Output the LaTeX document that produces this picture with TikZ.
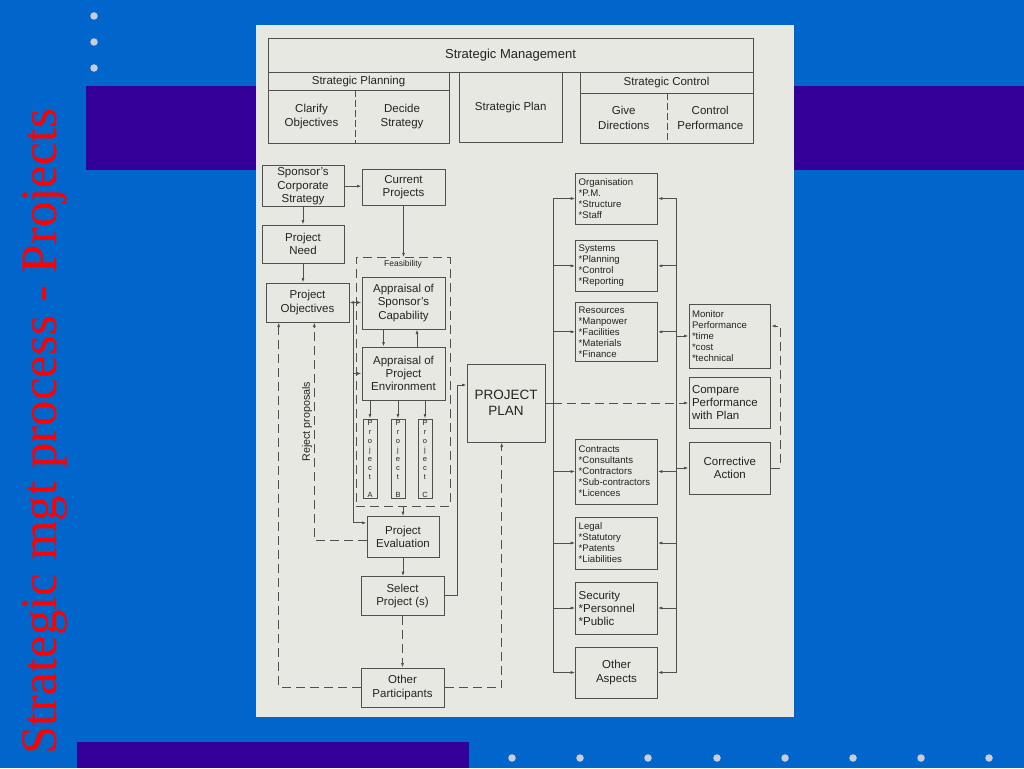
\documentclass[tikz,border=0pt]{standalone}
\usepackage{fontspec}
\setmainfont{Liberation Sans}
\newfontfamily\titlefont{Liberation Serif}
\usepackage{tikz}
\usetikzlibrary{positioning}
\usetikzlibrary{calc}
\usetikzlibrary{arrows.meta}
\definecolor{slideblue}{RGB}{0,102,204}
\definecolor{bandpurple}{RGB}{51,0,153}
\definecolor{paper}{RGB}{232,232,226}
\definecolor{ink}{RGB}{35,35,35}
\definecolor{wire}{RGB}{80,80,80}
\definecolor{dotgrey}{RGB}{200,205,215}
\tikzset{
	conn/.style={-{Latex[length=4.5pt,width=3pt]}, draw=wire, line width=0.8pt},
	bidir/.style={{Latex[length=4.5pt,width=3pt]}-{Latex[length=4.5pt,width=3pt]}, draw=wire, line width=0.8pt},
	wireline/.style={draw=wire, line width=0.8pt},
	latent/.style={dash pattern=on 9pt off 5pt},
	box/.style={draw=wire, fill=paper, line width=1pt, align=center, text=ink, inner sep=2pt, font=\fontsize{11.5}{13.3}\selectfont},
	list/.style={box, align=left, inner sep=3pt, text width=75.6pt, font=\fontsize{9.6}{11}\selectfont},
	cell/.style={inner sep=0pt, align=center, text=ink, font=\fontsize{11.5}{14.5}\selectfont},
	strip/.style={box, inner sep=0pt, minimum width=14pt, minimum height=79pt, font=\fontsize{7.5}{9}\selectfont},
	dot/.style={circle, fill=dotgrey, inner sep=0pt, minimum size=7.5pt},
	el/.style={inner sep=0pt, text=ink, font=\fontsize{10.7}{12}\selectfont}
}

\begin{document}
\begin{tikzpicture}[x=1pt,y=-1pt]
	\useasboundingbox (0,0) rectangle (1024,768);
	% slide
	\fill[slideblue] (0,0) rectangle (1024,768);
	\fill[bandpurple] (86,86) rectangle (1024,170);
	\fill[bandpurple] (77,742) rectangle (469,768);
	\foreach \y [count=\i] in {16,42,68} \node[dot] (tdot\i) at (94,\y) {};
	\foreach \x [count=\i] in {512,580,648,717,785,853,921,989} \node[dot] (bdot\i) at (\x,758) {};
	\node[rotate=90, anchor=base west, inner sep=0pt, text=red, font=\titlefont\fontsize{51}{51}\selectfont] (title) at (56,755) {Strategic mgt process - Projects};
	\fill[paper] (256,25) rectangle (794,717);

	% strategic management
	\node[box, minimum width=485pt, minimum height=34pt, font=\fontsize{13}{15}\selectfont] (sm) at (510.5,55.5) {Strategic Management};
	\node[box, minimum width=181pt, minimum height=18pt] (splan) at (358.5,81.5) {Strategic Planning};
	\node[box, minimum width=181pt, minimum height=52.5pt] (spbody) at (358.5,116.75) {};
	\node[cell, minimum width=87pt, minimum height=52.5pt] (clarify) at (311.5,116.75) {Clarify\\Objectives};
	\node[cell, minimum width=94pt, minimum height=52.5pt] (decide) at (402,116.75) {Decide\\Strategy};
	\node[box, minimum width=103.5pt, minimum height=69.5pt] (stplan) at (510.75,107.25) {Strategic Plan};
	\node[box, minimum width=173pt, minimum height=20.5pt] (sctrl) at (666.5,82.75) {Strategic Control};
	\node[box, minimum width=173pt, minimum height=50pt] (scbody) at (666.5,118) {};
	\node[cell, minimum width=87.5pt, minimum height=50pt] (give) at (623.75,118) {Give\\Directions};
	\node[cell, minimum width=85.5pt, minimum height=50pt] (ctrlperf) at (710.25,118) {Control\\Performance};
	\draw[wire, line width=0.5pt, dash pattern=on 7pt off 3pt] (clarify.north east) -- (clarify.south east);
	\draw[wire, line width=0.5pt, dash pattern=on 7pt off 3pt] (give.north east) -- (give.south east);

	% project selection
	\node[box, minimum width=82pt, minimum height=39pt] (corp) at (303,186.2) {Sponsor's\\Corporate\\Strategy};
	\node[box, minimum width=83pt, minimum height=36pt] (curr) at (403.5,187) {Current\\Projects};
	\node[box, minimum width=82pt, minimum height=38pt] (need) at (303,244) {Project\\Need};
	\node[box, minimum width=83pt, minimum height=39pt] (obj) at (307.5,302.5) {Project\\Objectives};
	\node[draw=wire, latent, line width=0.8pt, minimum width=94pt, minimum height=248.3pt, inner sep=0pt] (feas) at (403,381.85) {};
	\node[inner sep=0pt, text=ink, font=\fontsize{8.5}{10}\selectfont] (feaslabel) at (403,264) {Feasibility};
	\node[box, minimum width=83pt, minimum height=52pt] (cap) at (403.5,303) {Appraisal of\\Sponsor's\\Capability};
	\node[box, minimum width=83pt, minimum height=53pt] (env) at (403.5,373.5) {Appraisal of\\Project\\Environment};
	\foreach \p/\x in {A/370,B/398,C/425}
		\node[strip] (p\p) at (\x,458.5) {P\\r\\o\\j\\e\\c\\t\\[9pt]\p};
	\node[box, minimum width=72pt, minimum height=40.3pt] (eval) at (403,536.85) {Project\\Evaluation};
	\node[box, minimum width=83pt, minimum height=38.3pt] (sel) at (402.5,595.85) {Select\\Project (s)};
	\node[box, minimum width=83pt, minimum height=39pt] (other) at (402.5,687.5) {Other\\Participants};
	\node[box, minimum width=78pt, minimum height=78pt, font=\fontsize{13.5}{15.5}\selectfont] (plan) at (506,403) {PROJECT\\PLAN};
	\node[el, rotate=90] (reject) at (307,421.7) {Reject proposals};

	% plan aspects
	\node[list, minimum height=51pt] (org) at (616.5,198.5) {Organisation\\{*}P.M.\\{*}Structure\\{*}Staff};
	\node[list, minimum height=51.7pt] (sys) at (616.5,265.85) {Systems\\{*}Planning\\{*}Control\\{*}Reporting};
	\node[list, minimum height=59.7pt] (res) at (616.5,331.85) {Resources\\{*}Manpower\\{*}Facilities\\{*}Materials\\{*}Finance};
	\node[list, minimum height=65pt] (contr) at (616.5,471.5) {Contracts\\{*}Consultants\\{*}Contractors\\{*}Sub-contractors\\{*}Licences};
	\node[list, minimum height=52pt] (legal) at (616.5,543) {Legal\\{*}Statutory\\{*}Patents\\{*}Liabilities};
	\node[list, minimum height=52pt, font=\fontsize{11.5}{13}\selectfont] (secu) at (616.5,608) {Security\\{*}Personnel\\{*}Public};
	\node[box, minimum width=81.6pt, minimum height=51pt] (othasp) at (616.5,672.5) {Other\\Aspects};
	\node[list, text width=75.7pt, minimum height=64pt] (mon) at (729.85,336) {Monitor\\Performance\\{*}time\\{*}cost\\{*}technical};
	\node[list, text width=75.7pt, minimum height=51pt, font=\fontsize{11.5}{13}\selectfont] (comp) at (729.85,402.5) {Compare\\Performance\\with Plan};
	\node[box, minimum width=81.7pt, minimum height=52pt] (corr) at (729.85,468) {Corrective\\Action};

	\coordinate (vline) at (353.5,0);
	\coordinate (selx) at (457,0);
	\coordinate (lbus) at (553,0);
	\coordinate (rbus) at (676.7,0);

	% selection flow
	\draw[conn] (corp.east) -- (curr.west |- corp.east);
	\draw[conn] (corp.south) -- (corp.south |- need.north);
	\draw[conn] (need.south) -- (need.south |- obj.north);
	\draw[conn] (curr.south) -- (curr.south |- feas.north);
	\draw[bidir] (obj.east) -- (obj.east -| cap.west);
	\draw[conn] (vline |- obj.east) |- ([yshift=14pt]eval.west);
	\draw[conn] (vline |- env.west) -- (env.west);
	\draw[conn] ([xshift=-20pt]cap.south) -- ([xshift=-20pt]env.north);
	\draw[conn] ([xshift=13.5pt]env.north) -- ([xshift=13.5pt]cap.south);
	\foreach \p in {A,B,C}
		\draw[conn] (env.south -| p\p.north) -- (p\p.north);
	\draw[conn] (feas.south) -- (feas.south |- eval.north);
	\draw[conn] (eval.south) -- (eval.south |- sel.north);
	\draw[conn] (sel.east) -- (selx |- sel.east) |- ([yshift=18pt]plan.west);
	\draw[conn, latent] (sel.south) -- (sel.south |- other.north);
	\draw[conn, latent] ([yshift=-4pt]eval.west) -| ([xshift=6.8pt]obj.south);
	\draw[conn, latent] (other.west) -| ([xshift=-28.8pt]obj.south);
	\draw[conn, latent] (other.east) -| ([xshift=-4.3pt]plan.south);

	% plan to aspects
	\draw[wireline] (plan.east) -- (lbus |- plan.east);
	\draw[wireline] (lbus |- org.west) -- (lbus |- othasp.west);
	\draw[wireline] (rbus |- org.east) -- (rbus |- othasp.east);
	\foreach \b in {org,sys,res,contr,legal,secu,othasp} {
		\draw[conn] (lbus |- \b.west) -- (\b.west);
		\draw[conn] (rbus |- \b.east) -- (\b.east);
	}
	\draw[conn] (rbus |- mon.west) -- (mon.west);
	\draw[conn] (rbus |- corr.west) -- (corr.west);
	\draw[conn, latent] (lbus |- plan.east) -- (comp.west |- plan.east);
	\draw[conn, latent] (corr.east) -| ([xshift=9.3pt,yshift=10pt]mon.east) -- ([yshift=10pt]mon.east);
\end{tikzpicture}
\end{document}
